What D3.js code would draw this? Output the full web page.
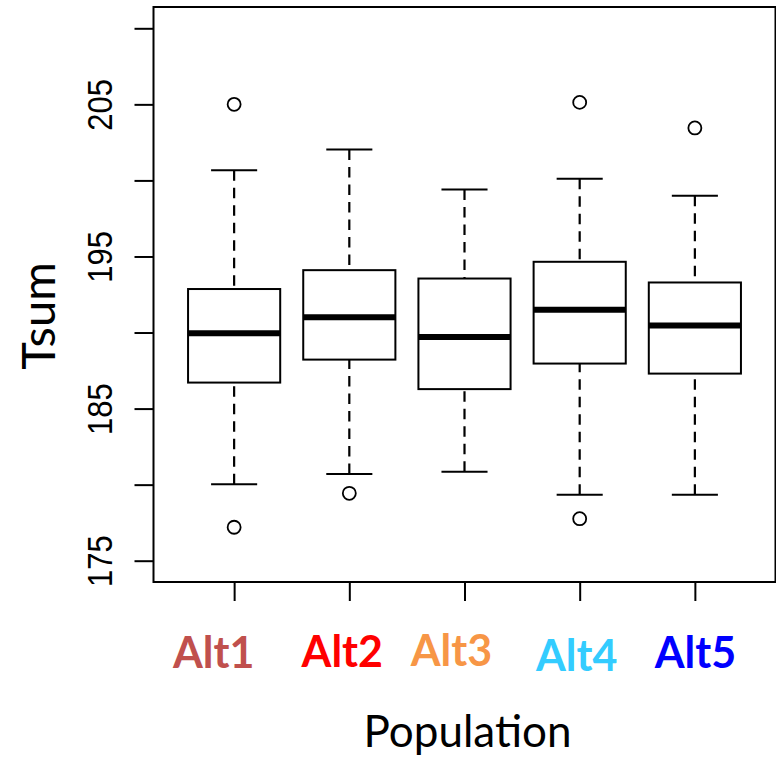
<!DOCTYPE html>
<html>
<head>
<meta charset="utf-8">
<script src="https://cdn.jsdelivr.net/npm/d3@7"></script>
<style>
  html, body { margin: 0; padding: 0; background: #fff; }
  svg { display: block; }
</style>
</head>
<body>
<svg id="chart" width="776" height="757"></svg>
<script>
// ---- data ----
const categories   = ["Alt1", "Alt2", "Alt3", "Alt4", "Alt5"];
const labelColors  = ["#C0504D", "#FF0000", "#F79646", "#33CCFF", "#0000FF"];
const whiskerLow   = [180.03, 180.70, 180.84, 179.34, 179.34];
const q1           = [186.71, 188.22, 186.28, 187.96, 187.30];
const median       = [189.95, 191.01, 189.70, 191.49, 190.46];
const q3           = [192.86, 194.10, 193.55, 194.65, 193.29];
const whiskerHigh  = [200.66, 202.04, 199.41, 200.11, 198.99];
const outliers     = [[205.00, 177.20], [179.43], [], [205.13, 177.76], [203.45]];
const yTicks       = [175, 180, 185, 190, 195, 200, 205, 210];
const yTickLabels  = ["175", "", "185", "", "195", "", "205", ""];
const yLimits      = [175, 210];
const xLabel = "Population";
const yLabel = "Tsum";

// ---- layout constants ----
const plot = { left: 153.5, right: 775.5, top: 7, bottom: 582 };
const labelNudgeX = [-20.5, -7, -13, -3, 0.5];
const labelBaseY  = [668, 667, 666, 671, 668];

const svg = d3.select("#chart");
svg.append("rect").attr("width", 776).attr("height", 757).attr("fill", "#fff");

// R style: 4% padding around limits
const pad = (yLimits[1] - yLimits[0]) * 0.04;
const y = d3.scaleLinear()
  .domain([yLimits[0] - pad, yLimits[1] + pad])
  .range([plot.bottom, plot.top]);
const n = categories.length;
const xpad = n * 0.04;
const x = d3.scaleLinear()
  .domain([0.5 - xpad, n + 0.5 + xpad])
  .range([plot.left, plot.right]);

const boxW = x(1.4) - x(1);
const capW = x(1.2) - x(1);

const g = svg.append("g");

categories.forEach((c, i) => {
  const cx = x(i + 1);
  // whiskers (dashed), drawn from cap toward box
  g.append("line").attr("x1", cx).attr("x2", cx)
    .attr("y1", y(whiskerHigh[i])).attr("y2", y(q3[i]))
    .attr("stroke", "#000").attr("stroke-width", 2.2).attr("stroke-dasharray", "10.5,7");
  g.append("line").attr("x1", cx).attr("x2", cx)
    .attr("y1", y(whiskerLow[i])).attr("y2", y(q1[i]))
    .attr("stroke", "#000").attr("stroke-width", 2.2).attr("stroke-dasharray", "10.5,7");
  // caps
  [whiskerHigh[i], whiskerLow[i]].forEach(v => {
    g.append("line").attr("x1", cx - capW).attr("x2", cx + capW)
      .attr("y1", y(v)).attr("y2", y(v))
      .attr("stroke", "#000").attr("stroke-width", 2);
  });
  // box
  g.append("rect")
    .attr("x", cx - boxW).attr("width", 2 * boxW)
    .attr("y", y(q3[i])).attr("height", y(q1[i]) - y(q3[i]))
    .attr("fill", "#fff").attr("stroke", "#000").attr("stroke-width", 2);
  // median
  g.append("line").attr("x1", cx - boxW).attr("x2", cx + boxW)
    .attr("y1", y(median[i])).attr("y2", y(median[i]))
    .attr("stroke", "#000").attr("stroke-width", 6);
  // outliers
  outliers[i].forEach(v => {
    g.append("circle").attr("cx", cx).attr("cy", y(v)).attr("r", 6.5)
      .attr("fill", "none").attr("stroke", "#000").attr("stroke-width", 1.8);
  });
});

// frame
svg.append("rect")
  .attr("x", plot.left).attr("y", plot.top)
  .attr("width", plot.right - plot.left).attr("height", plot.bottom - plot.top)
  .attr("fill", "none").attr("stroke", "#000").attr("stroke-width", 2);

// y axis
const yAxis = svg.append("g")
  .attr("transform", `translate(${plot.left},0)`)
  .call(d3.axisLeft(y).tickValues(yTicks).tickSize(19).tickSizeOuter(0)
    .tickFormat((d, i) => yTickLabels[i]));
yAxis.select(".domain").remove();
yAxis.selectAll(".tick line").attr("stroke", "#000").attr("stroke-width", 2);
yAxis.selectAll(".tick text")
  .attr("x", null).attr("dy", null)
  .attr("text-anchor", "middle")
  .attr("transform", "translate(-41.5,0) rotate(-90) scale(1,1.15)")
  .attr("font-family", "'Liberation Sans', Arial, sans-serif")
  .attr("font-size", 31)
  .attr("fill", "#000");

// x axis
const xAxis = svg.append("g")
  .attr("transform", `translate(0,${plot.bottom})`)
  .call(d3.axisBottom(x).tickValues(d3.range(1, n + 1)).tickSize(19).tickSizeOuter(0)
    .tickFormat(""));
xAxis.select(".domain").remove();
xAxis.selectAll(".tick line").attr("stroke", "#000").attr("stroke-width", 2);

// category labels
svg.append("g").selectAll("text").data(categories).join("text")
  .attr("x", (d, i) => x(i + 1) + labelNudgeX[i])
  .attr("y", (d, i) => labelBaseY[i])
  .attr("text-anchor", "middle")
  .attr("font-family", "Lato, 'Open Sans', sans-serif")
  .attr("font-weight", "bold")
  .attr("font-size", 43)
  .attr("fill", (d, i) => labelColors[i])
  .text(d => d);

// axis titles
svg.append("text")
  .attr("x", 467.5).attr("y", 747)
  .attr("text-anchor", "middle")
  .attr("font-family", "Lato, 'Open Sans', sans-serif")
  .attr("font-size", 44)
  .attr("fill", "#000")
  .text(xLabel);

svg.append("text")
  .attr("transform", "translate(55,316) rotate(-90)")
  .attr("text-anchor", "middle")
  .attr("font-family", "Lato, 'Open Sans', sans-serif")
  .attr("font-size", 47)
  .attr("fill", "#000")
  .text(yLabel);
</script>
</body>
</html>
